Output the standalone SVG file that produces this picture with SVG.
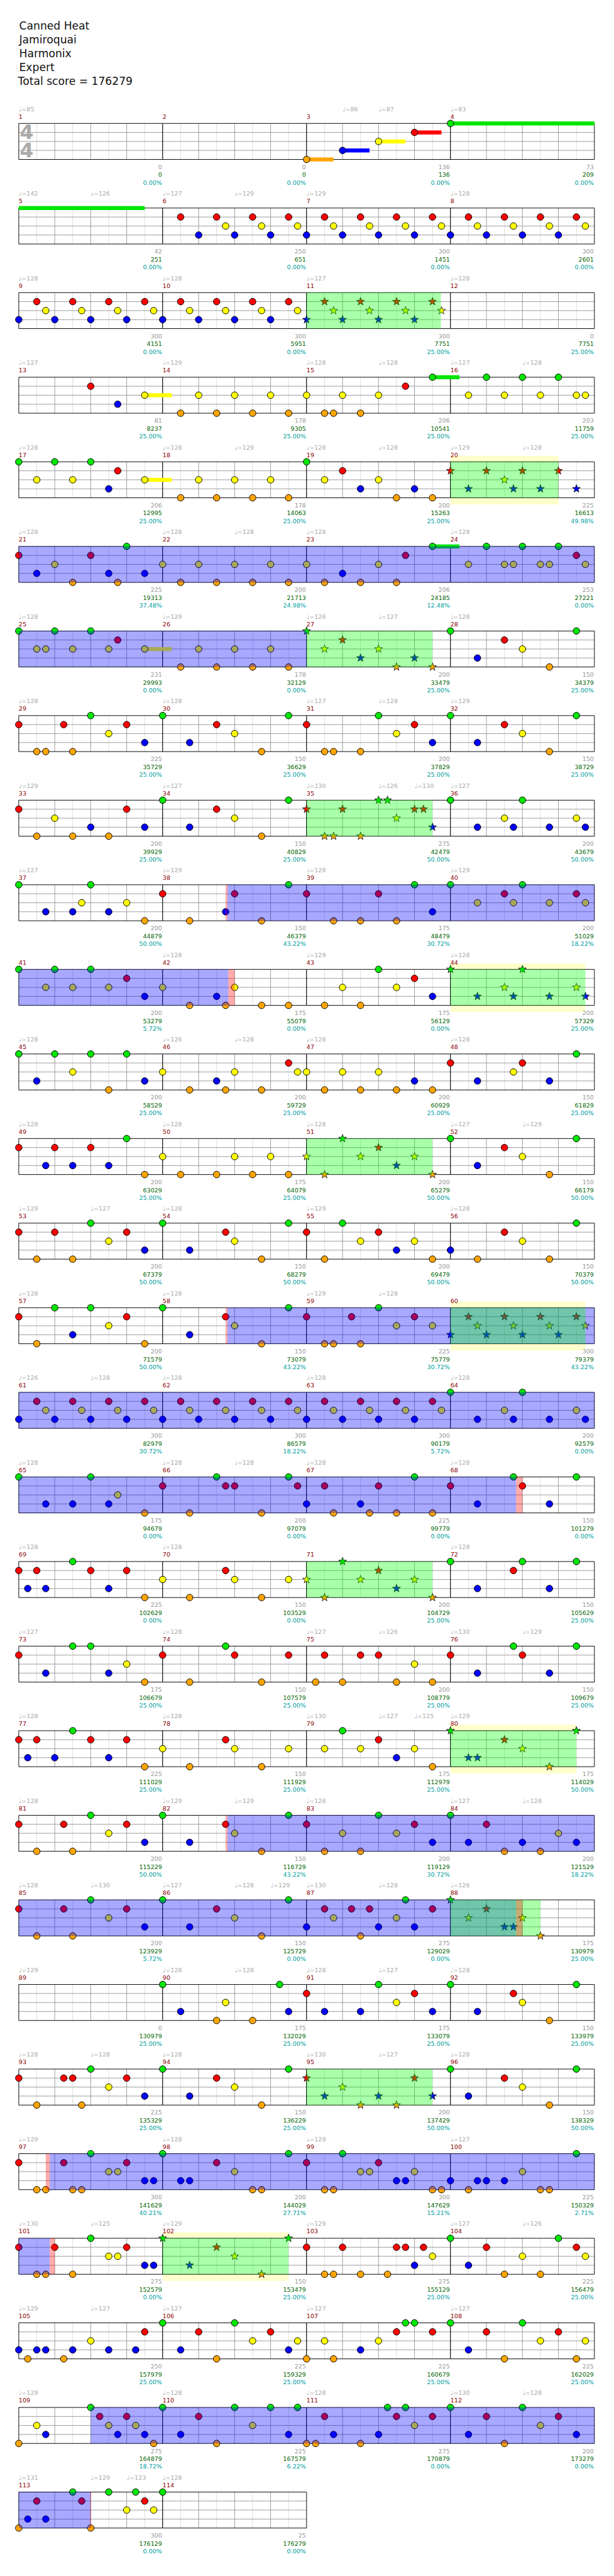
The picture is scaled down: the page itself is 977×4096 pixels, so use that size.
<svg xmlns="http://www.w3.org/2000/svg" xmlns:xlink="http://www.w3.org/1999/xlink" width="977" height="4096" viewBox="0 0 977 4096">
<style>
text{font-family:"DejaVu Sans","Liberation Sans",sans-serif;font-size:10px}
.h{font-size:18px;fill:#111}
.ts{font-size:33px;font-weight:bold;fill:#aaa;text-anchor:middle}
.t{fill:#aaa}
.mn{fill:#8b0000}
.n1,.n2,.n3{text-anchor:end}
.n1{fill:#999}.n2{fill:#006400}.n3{fill:#00a0a0}
.g{fill:#00e600}.r{fill:#f00}.y{fill:#ff0}.b{fill:#00f}.o{fill:#ffa500}
circle{stroke:#000;stroke-width:1}
.ob{fill:#00f;opacity:.34}.og{fill:#0f0;opacity:.333}.or{fill:#f00;opacity:.33}.yb{fill:#ffffcc}
</style>
<defs>
<g id="mg">
<rect width="240" height="60" fill="#fff"/>
<path d="M30 0v60M90 0v60M150 0v60M210 0v60" stroke="#ddd"/>
<path d="M60 0v60M120 0v60M180 0v60M0 15h240M0 30h240M0 45h240" stroke="#999"/>
<path d="M0 0h240M0 60h240M0 0v60M240 0v60" stroke="#000"/>
</g>
<path id="s" d="M0,-7L1.65,-2.27 6.66,-2.16 2.66,0.87 4.11,5.66 0,2.8 -4.11,5.66 -2.66,0.87 -6.66,-2.16 -1.65,-2.27Z" stroke="#000" stroke-width="0.8"/>
</defs>
<rect width="977" height="4096" fill="#fff"/>
<g transform="scale(0.9541)">
<g id="header">
<text class="h" x="32" y="49">Canned Heat</text>
<text class="h" x="32" y="72">Jamiroquai</text>
<text class="h" x="32" y="95">Harmonix</text>
<text class="h" x="32" y="118">Expert</text>
<text class="h" x="30" y="141">Total score = 176279</text>
</g>

<g id="row1" transform="translate(31.3,205.7)">
<use href="#mg"/><use href="#mg" x="240"/><use href="#mg" x="480"/><use href="#mg" x="720"/>
<text class="ts" x="13.2" y="26.3">4</text><text class="ts" x="13.2" y="56.3">4</text>
<g class="g"><rect x="720" y="-3.3" width="240" height="6.7"/><circle cx="720" r="5.5"/></g>
<g class="r" transform="translate(0,15)"><rect x="660" y="-3.3" width="45" height="6.7"/><circle cx="660" r="5.5"/></g>
<g class="y" transform="translate(0,30)"><rect x="600" y="-3.3" width="45" height="6.7"/><circle cx="600" r="5.5"/></g>
<g class="b" transform="translate(0,45)"><rect x="540" y="-3.3" width="45" height="6.7"/><circle cx="540" r="5.5"/></g>
<g class="o" transform="translate(0,60)"><rect x="480" y="-3.3" width="45" height="6.7"/><circle cx="480" r="5.5"/></g>
<text class="t" x="0" y="-20.7">♩=85</text><text class="t" x="540" y="-20.7">♩=86</text><text class="t" x="600" y="-20.7">♩=87</text><text class="t" x="720" y="-20.7">♩=83</text>
<text class="mn" x="0" y="-8">1</text><text class="mn" x="240" y="-8">2</text><text class="mn" x="480" y="-8">3</text><text class="mn" x="720" y="-8">4</text>
<text class="n1" x="239" y="76">0</text><text class="n2" x="239" y="89.3">0</text><text class="n3" x="239" y="102">0.00%</text>
<text class="n1" x="479" y="76">0</text><text class="n2" x="479" y="89.3">0</text><text class="n3" x="479" y="102">0.00%</text>
<text class="n1" x="719" y="76">136</text><text class="n2" x="719" y="89.3">136</text><text class="n3" x="719" y="102">0.00%</text>
<text class="n1" x="959" y="76">73</text><text class="n2" x="959" y="89.3">209</text><text class="n3" x="959" y="102">0.00%</text>
</g>

<g id="row2" transform="translate(31.3,346.68)">
<use href="#mg"/><use href="#mg" x="240"/><use href="#mg" x="480"/><use href="#mg" x="720"/>
<g class="g"><rect x="0" y="-3.3" width="210" height="6.7"/></g>
<g class="r" transform="translate(0,15)"><circle cx="270" r="5.5"/><circle cx="330" r="5.5"/><circle cx="390" r="5.5"/><circle cx="450" r="5.5"/><circle cx="510" r="5.5"/><circle cx="570" r="5.5"/><circle cx="630" r="5.5"/><circle cx="690" r="5.5"/><circle cx="750" r="5.5"/><circle cx="810" r="5.5"/><circle cx="870" r="5.5"/><circle cx="930" r="5.5"/></g>
<g class="y" transform="translate(0,30)"><circle cx="345" r="5.5"/><circle cx="405" r="5.5"/><circle cx="465" r="5.5"/><circle cx="525" r="5.5"/><circle cx="585" r="5.5"/><circle cx="645" r="5.5"/><circle cx="705" r="5.5"/><circle cx="765" r="5.5"/><circle cx="825" r="5.5"/><circle cx="885" r="5.5"/><circle cx="945" r="5.5"/></g>
<g class="b" transform="translate(0,45)"><circle cx="300" r="5.5"/><circle cx="360" r="5.5"/><circle cx="420" r="5.5"/><circle cx="480" r="5.5"/><circle cx="540" r="5.5"/><circle cx="600" r="5.5"/><circle cx="660" r="5.5"/><circle cx="720" r="5.5"/><circle cx="780" r="5.5"/><circle cx="840" r="5.5"/><circle cx="900" r="5.5"/></g>
<text class="t" x="0" y="-20.7">♩=142</text><text class="t" x="120" y="-20.7">♩=126</text><text class="t" x="240" y="-20.7">♩=127</text><text class="t" x="360" y="-20.7">♩=129</text><text class="t" x="480" y="-20.7">♩=129</text><text class="t" x="720" y="-20.7">♩=128</text>
<text class="mn" x="0" y="-8">5</text><text class="mn" x="240" y="-8">6</text><text class="mn" x="480" y="-8">7</text><text class="mn" x="720" y="-8">8</text>
<text class="n1" x="239" y="76">42</text><text class="n2" x="239" y="89.3">251</text><text class="n3" x="239" y="102">0.00%</text>
<text class="n1" x="479" y="76">250</text><text class="n2" x="479" y="89.3">651</text><text class="n3" x="479" y="102">0.00%</text>
<text class="n1" x="719" y="76">300</text><text class="n2" x="719" y="89.3">1451</text><text class="n3" x="719" y="102">0.00%</text>
<text class="n1" x="959" y="76">300</text><text class="n2" x="959" y="89.3">2601</text><text class="n3" x="959" y="102">0.00%</text>
</g>

<g id="row3" transform="translate(31.3,487.66)">
<use href="#mg"/><use href="#mg" x="240"/><use href="#mg" x="480"/><use href="#mg" x="720"/>
<g class="r" transform="translate(0,15)"><circle cx="30" r="5.5"/><circle cx="90" r="5.5"/><circle cx="150" r="5.5"/><circle cx="210" r="5.5"/><circle cx="270" r="5.5"/><circle cx="330" r="5.5"/><circle cx="390" r="5.5"/><circle cx="450" r="5.5"/><use href="#s" x="510"/><use href="#s" x="570"/><use href="#s" x="630"/><use href="#s" x="690"/></g>
<g class="y" transform="translate(0,30)"><circle cx="45" r="5.5"/><circle cx="105" r="5.5"/><circle cx="165" r="5.5"/><circle cx="225" r="5.5"/><circle cx="285" r="5.5"/><circle cx="345" r="5.5"/><circle cx="405" r="5.5"/><circle cx="465" r="5.5"/><use href="#s" x="525"/><use href="#s" x="585"/><use href="#s" x="645"/><use href="#s" x="705"/></g>
<g class="b" transform="translate(0,45)"><circle cx="0" r="5.5"/><circle cx="60" r="5.5"/><circle cx="120" r="5.5"/><circle cx="180" r="5.5"/><circle cx="240" r="5.5"/><circle cx="300" r="5.5"/><circle cx="360" r="5.5"/><circle cx="420" r="5.5"/><use href="#s" x="480"/><use href="#s" x="540"/><use href="#s" x="600"/><use href="#s" x="660"/></g>
<rect class="og" x="480" width="224" height="60"/>
<text class="t" x="0" y="-20.7">♩=128</text><text class="t" x="240" y="-20.7">♩=128</text><text class="t" x="480" y="-20.7">♩=127</text><text class="t" x="720" y="-20.7">♩=128</text>
<text class="mn" x="0" y="-8">9</text><text class="mn" x="240" y="-8">10</text><text class="mn" x="480" y="-8">11</text><text class="mn" x="720" y="-8">12</text>
<text class="n1" x="239" y="76">300</text><text class="n2" x="239" y="89.3">4151</text><text class="n3" x="239" y="102">0.00%</text>
<text class="n1" x="479" y="76">300</text><text class="n2" x="479" y="89.3">5951</text><text class="n3" x="479" y="102">0.00%</text>
<text class="n1" x="719" y="76">300</text><text class="n2" x="719" y="89.3">7751</text><text class="n3" x="719" y="102">25.00%</text>
<text class="n1" x="959" y="76">0</text><text class="n2" x="959" y="89.3">7751</text><text class="n3" x="959" y="102">25.00%</text>
</g>

<g id="row4" transform="translate(31.3,628.64)">
<use href="#mg"/><use href="#mg" x="240"/><use href="#mg" x="480"/><use href="#mg" x="720"/>
<g class="g"><rect x="690" y="-3.3" width="45" height="6.7"/><circle cx="690" r="5.5"/><circle cx="780" r="5.5"/><circle cx="840" r="5.5"/><circle cx="900" r="5.5"/></g>
<g class="r" transform="translate(0,15)"><circle cx="120" r="5.5"/><circle cx="645" r="5.5"/></g>
<g class="y" transform="translate(0,30)"><rect x="210" y="-3.3" width="45" height="6.7"/><circle cx="210" r="5.5"/><circle cx="300" r="5.5"/><circle cx="360" r="5.5"/><circle cx="420" r="5.5"/><circle cx="480" r="5.5"/><circle cx="540" r="5.5"/><circle cx="600" r="5.5"/><circle cx="750" r="5.5"/><circle cx="810" r="5.5"/><circle cx="870" r="5.5"/><circle cx="930" r="5.5"/><circle cx="945" r="5.5"/></g>
<g class="b" transform="translate(0,45)"><circle cx="165" r="5.5"/></g>
<g class="o" transform="translate(0,60)"><circle cx="270" r="5.5"/><circle cx="330" r="5.5"/><circle cx="390" r="5.5"/><circle cx="450" r="5.5"/><circle cx="510" r="5.5"/><circle cx="525" r="5.5"/><circle cx="570" r="5.5"/></g>
<text class="t" x="0" y="-20.7">♩=127</text><text class="t" x="240" y="-20.7">♩=129</text><text class="t" x="480" y="-20.7">♩=128</text><text class="t" x="600" y="-20.7">♩=128</text><text class="t" x="720" y="-20.7">♩=127</text><text class="t" x="840" y="-20.7">♩=128</text>
<text class="mn" x="0" y="-8">13</text><text class="mn" x="240" y="-8">14</text><text class="mn" x="480" y="-8">15</text><text class="mn" x="720" y="-8">16</text>
<text class="n1" x="239" y="76">81</text><text class="n2" x="239" y="89.3">8237</text><text class="n3" x="239" y="102">25.00%</text>
<text class="n1" x="479" y="76">178</text><text class="n2" x="479" y="89.3">9305</text><text class="n3" x="479" y="102">25.00%</text>
<text class="n1" x="719" y="76">206</text><text class="n2" x="719" y="89.3">10541</text><text class="n3" x="719" y="102">25.00%</text>
<text class="n1" x="959" y="76">203</text><text class="n2" x="959" y="89.3">11759</text><text class="n3" x="959" y="102">25.00%</text>
</g>

<g id="row5" transform="translate(31.3,769.62)">
<rect class="yb" x="720" y="-10" width="180" height="81"/>
<use href="#mg"/><use href="#mg" x="240"/><use href="#mg" x="480"/><use href="#mg" x="720"/>
<g class="g"><circle cx="0" r="5.5"/><circle cx="60" r="5.5"/><circle cx="120" r="5.5"/><circle cx="480" r="5.5"/></g>
<g class="r" transform="translate(0,15)"><circle cx="165" r="5.5"/><circle cx="540" r="5.5"/><use href="#s" x="720"/><use href="#s" x="780"/><use href="#s" x="840"/><use href="#s" x="900"/></g>
<g class="y" transform="translate(0,30)"><rect x="210" y="-3.3" width="45" height="6.7"/><circle cx="30" r="5.5"/><circle cx="90" r="5.5"/><circle cx="210" r="5.5"/><circle cx="300" r="5.5"/><circle cx="360" r="5.5"/><circle cx="420" r="5.5"/><circle cx="510" r="5.5"/><circle cx="600" r="5.5"/><use href="#s" x="810"/></g>
<g class="b" transform="translate(0,45)"><circle cx="150" r="5.5"/><circle cx="570" r="5.5"/><circle cx="660" r="5.5"/><use href="#s" x="750"/><use href="#s" x="825"/><use href="#s" x="870"/><use href="#s" x="930"/></g>
<g class="o" transform="translate(0,60)"><circle cx="270" r="5.5"/><circle cx="330" r="5.5"/><circle cx="390" r="5.5"/><circle cx="450" r="5.5"/><circle cx="630" r="5.5"/><circle cx="690" r="5.5"/></g>
<rect class="og" x="720" width="180" height="60"/>
<text class="t" x="0" y="-20.7">♩=128</text><text class="t" x="240" y="-20.7">♩=128</text><text class="t" x="360" y="-20.7">♩=129</text><text class="t" x="480" y="-20.7">♩=128</text><text class="t" x="600" y="-20.7">♩=128</text><text class="t" x="720" y="-20.7">♩=129</text><text class="t" x="840" y="-20.7">♩=128</text>
<text class="mn" x="0" y="-8">17</text><text class="mn" x="240" y="-8">18</text><text class="mn" x="480" y="-8">19</text><text class="mn" x="720" y="-8">20</text>
<text class="n1" x="239" y="76">206</text><text class="n2" x="239" y="89.3">12995</text><text class="n3" x="239" y="102">25.00%</text>
<text class="n1" x="479" y="76">178</text><text class="n2" x="479" y="89.3">14063</text><text class="n3" x="479" y="102">25.00%</text>
<text class="n1" x="719" y="76">200</text><text class="n2" x="719" y="89.3">15263</text><text class="n3" x="719" y="102">25.00%</text>
<text class="n1" x="959" y="76">225</text><text class="n2" x="959" y="89.3">16613</text><text class="n3" x="959" y="102">49.98%</text>
</g>

<g id="row6" transform="translate(31.3,910.6)">
<use href="#mg"/><use href="#mg" x="240"/><use href="#mg" x="480"/><use href="#mg" x="720"/>
<g class="g"><rect x="690" y="-3.3" width="45" height="6.7"/><circle cx="180" r="5.5"/><circle cx="690" r="5.5"/><circle cx="780" r="5.5"/><circle cx="840" r="5.5"/><circle cx="900" r="5.5"/></g>
<g class="r" transform="translate(0,15)"><circle cx="0" r="5.5"/><circle cx="120" r="5.5"/><circle cx="645" r="5.5"/><circle cx="930" r="5.5"/></g>
<g class="y" transform="translate(0,30)"><circle cx="60" r="5.5"/><circle cx="240" r="5.5"/><circle cx="300" r="5.5"/><circle cx="360" r="5.5"/><circle cx="420" r="5.5"/><circle cx="480" r="5.5"/><circle cx="600" r="5.5"/><circle cx="750" r="5.5"/><circle cx="810" r="5.5"/><circle cx="825" r="5.5"/><circle cx="870" r="5.5"/><circle cx="885" r="5.5"/><circle cx="945" r="5.5"/></g>
<g class="b" transform="translate(0,45)"><circle cx="30" r="5.5"/><circle cx="150" r="5.5"/><circle cx="210" r="5.5"/><circle cx="540" r="5.5"/></g>
<g class="o" transform="translate(0,60)"><circle cx="90" r="5.5"/><circle cx="165" r="5.5"/><circle cx="270" r="5.5"/><circle cx="330" r="5.5"/><circle cx="390" r="5.5"/><circle cx="450" r="5.5"/><circle cx="510" r="5.5"/><circle cx="570" r="5.5"/><circle cx="630" r="5.5"/></g>
<rect class="ob" x="0" width="960" height="60"/>
<text class="t" x="0" y="-20.7">♩=128</text><text class="t" x="240" y="-20.7">♩=128</text><text class="t" x="360" y="-20.7">♩=128</text><text class="t" x="480" y="-20.7">♩=128</text><text class="t" x="720" y="-20.7">♩=128</text>
<text class="mn" x="0" y="-8">21</text><text class="mn" x="240" y="-8">22</text><text class="mn" x="480" y="-8">23</text><text class="mn" x="720" y="-8">24</text>
<text class="n1" x="239" y="76">225</text><text class="n2" x="239" y="89.3">19313</text><text class="n3" x="239" y="102">37.48%</text>
<text class="n1" x="479" y="76">200</text><text class="n2" x="479" y="89.3">21713</text><text class="n3" x="479" y="102">24.98%</text>
<text class="n1" x="719" y="76">206</text><text class="n2" x="719" y="89.3">24185</text><text class="n3" x="719" y="102">12.48%</text>
<text class="n1" x="959" y="76">253</text><text class="n2" x="959" y="89.3">27221</text><text class="n3" x="959" y="102">0.00%</text>
</g>

<g id="row7" transform="translate(31.3,1051.58)">
<use href="#mg"/><use href="#mg" x="240"/><use href="#mg" x="480"/><use href="#mg" x="720"/>
<g class="g"><circle cx="0" r="5.5"/><circle cx="60" r="5.5"/><circle cx="120" r="5.5"/><circle cx="720" r="5.5"/><circle cx="930" r="5.5"/><use href="#s" x="480"/></g>
<g class="r" transform="translate(0,15)"><circle cx="165" r="5.5"/><circle cx="810" r="5.5"/><use href="#s" x="540"/></g>
<g class="y" transform="translate(0,30)"><rect x="210" y="-3.3" width="45" height="6.7"/><circle cx="30" r="5.5"/><circle cx="45" r="5.5"/><circle cx="90" r="5.5"/><circle cx="150" r="5.5"/><circle cx="210" r="5.5"/><circle cx="300" r="5.5"/><circle cx="360" r="5.5"/><circle cx="420" r="5.5"/><circle cx="840" r="5.5"/><use href="#s" x="510"/><use href="#s" x="600"/></g>
<g class="b" transform="translate(0,45)"><circle cx="765" r="5.5"/><use href="#s" x="570"/><use href="#s" x="660"/></g>
<g class="o" transform="translate(0,60)"><circle cx="270" r="5.5"/><circle cx="330" r="5.5"/><circle cx="390" r="5.5"/><circle cx="450" r="5.5"/><circle cx="885" r="5.5"/><use href="#s" x="630"/><use href="#s" x="690"/></g>
<rect class="ob" x="0" width="480" height="60"/><rect class="og" x="480" width="210" height="60"/>
<text class="t" x="0" y="-20.7">♩=128</text><text class="t" x="240" y="-20.7">♩=129</text><text class="t" x="480" y="-20.7">♩=126</text><text class="t" x="600" y="-20.7">♩=127</text><text class="t" x="720" y="-20.7">♩=128</text>
<text class="mn" x="0" y="-8">25</text><text class="mn" x="240" y="-8">26</text><text class="mn" x="480" y="-8">27</text><text class="mn" x="720" y="-8">28</text>
<text class="n1" x="239" y="76">231</text><text class="n2" x="239" y="89.3">29993</text><text class="n3" x="239" y="102">0.00%</text>
<text class="n1" x="479" y="76">178</text><text class="n2" x="479" y="89.3">32129</text><text class="n3" x="479" y="102">0.00%</text>
<text class="n1" x="719" y="76">200</text><text class="n2" x="719" y="89.3">33479</text><text class="n3" x="719" y="102">25.00%</text>
<text class="n1" x="959" y="76">150</text><text class="n2" x="959" y="89.3">34379</text><text class="n3" x="959" y="102">25.00%</text>
</g>

<g id="row8" transform="translate(31.3,1192.56)">
<use href="#mg"/><use href="#mg" x="240"/><use href="#mg" x="480"/><use href="#mg" x="720"/>
<g class="g"><circle cx="120" r="5.5"/><circle cx="240" r="5.5"/><circle cx="450" r="5.5"/><circle cx="600" r="5.5"/><circle cx="720" r="5.5"/><circle cx="930" r="5.5"/></g>
<g class="r" transform="translate(0,15)"><circle cx="0" r="5.5"/><circle cx="75" r="5.5"/><circle cx="180" r="5.5"/><circle cx="330" r="5.5"/><circle cx="480" r="5.5"/><circle cx="660" r="5.5"/><circle cx="810" r="5.5"/></g>
<g class="y" transform="translate(0,30)"><circle cx="150" r="5.5"/><circle cx="360" r="5.5"/><circle cx="630" r="5.5"/><circle cx="840" r="5.5"/></g>
<g class="b" transform="translate(0,45)"><circle cx="210" r="5.5"/><circle cx="285" r="5.5"/><circle cx="690" r="5.5"/><circle cx="765" r="5.5"/></g>
<g class="o" transform="translate(0,60)"><circle cx="30" r="5.5"/><circle cx="45" r="5.5"/><circle cx="90" r="5.5"/><circle cx="405" r="5.5"/><circle cx="510" r="5.5"/><circle cx="525" r="5.5"/><circle cx="570" r="5.5"/><circle cx="885" r="5.5"/></g>
<text class="t" x="0" y="-20.7">♩=128</text><text class="t" x="240" y="-20.7">♩=128</text><text class="t" x="480" y="-20.7">♩=127</text><text class="t" x="600" y="-20.7">♩=128</text><text class="t" x="720" y="-20.7">♩=129</text>
<text class="mn" x="0" y="-8">29</text><text class="mn" x="240" y="-8">30</text><text class="mn" x="480" y="-8">31</text><text class="mn" x="720" y="-8">32</text>
<text class="n1" x="239" y="76">225</text><text class="n2" x="239" y="89.3">35729</text><text class="n3" x="239" y="102">25.00%</text>
<text class="n1" x="479" y="76">150</text><text class="n2" x="479" y="89.3">36629</text><text class="n3" x="479" y="102">25.00%</text>
<text class="n1" x="719" y="76">200</text><text class="n2" x="719" y="89.3">37829</text><text class="n3" x="719" y="102">25.00%</text>
<text class="n1" x="959" y="76">150</text><text class="n2" x="959" y="89.3">38729</text><text class="n3" x="959" y="102">25.00%</text>
</g>

<g id="row9" transform="translate(31.3,1333.54)">
<use href="#mg"/><use href="#mg" x="240"/><use href="#mg" x="480"/><use href="#mg" x="720"/>
<g class="g"><circle cx="240" r="5.5"/><circle cx="450" r="5.5"/><circle cx="720" r="5.5"/><circle cx="840" r="5.5"/><use href="#s" x="600"/><use href="#s" x="615"/></g>
<g class="r" transform="translate(0,15)"><circle cx="0" r="5.5"/><circle cx="180" r="5.5"/><circle cx="330" r="5.5"/><use href="#s" x="480"/><use href="#s" x="540"/><use href="#s" x="660"/><use href="#s" x="675"/></g>
<g class="y" transform="translate(0,30)"><circle cx="60" r="5.5"/><circle cx="360" r="5.5"/><circle cx="810" r="5.5"/><circle cx="930" r="5.5"/><use href="#s" x="630"/></g>
<g class="b" transform="translate(0,45)"><circle cx="120" r="5.5"/><circle cx="210" r="5.5"/><circle cx="285" r="5.5"/><circle cx="765" r="5.5"/><circle cx="825" r="5.5"/><circle cx="885" r="5.5"/><circle cx="945" r="5.5"/><use href="#s" x="690"/></g>
<g class="o" transform="translate(0,60)"><circle cx="30" r="5.5"/><circle cx="90" r="5.5"/><circle cx="150" r="5.5"/><circle cx="405" r="5.5"/><use href="#s" x="510"/><use href="#s" x="525"/><use href="#s" x="570"/></g>
<rect class="og" x="480" width="210" height="60"/>
<text class="t" x="0" y="-20.7">♩=129</text><text class="t" x="240" y="-20.7">♩=127</text><text class="t" x="480" y="-20.7">♩=130</text><text class="t" x="600" y="-20.7">♩=126</text><text class="t" x="660" y="-20.7">♩=130</text><text class="t" x="720" y="-20.7">♩=127</text>
<text class="mn" x="0" y="-8">33</text><text class="mn" x="240" y="-8">34</text><text class="mn" x="480" y="-8">35</text><text class="mn" x="720" y="-8">36</text>
<text class="n1" x="239" y="76">200</text><text class="n2" x="239" y="89.3">39929</text><text class="n3" x="239" y="102">25.00%</text>
<text class="n1" x="479" y="76">150</text><text class="n2" x="479" y="89.3">40829</text><text class="n3" x="479" y="102">25.00%</text>
<text class="n1" x="719" y="76">275</text><text class="n2" x="719" y="89.3">42479</text><text class="n3" x="719" y="102">50.00%</text>
<text class="n1" x="959" y="76">200</text><text class="n2" x="959" y="89.3">43679</text><text class="n3" x="959" y="102">50.00%</text>
</g>

<g id="row10" transform="translate(31.3,1474.52)">
<use href="#mg"/><use href="#mg" x="240"/><use href="#mg" x="480"/><use href="#mg" x="720"/>
<g class="g"><circle cx="0" r="5.5"/><circle cx="120" r="5.5"/><circle cx="450" r="5.5"/><circle cx="660" r="5.5"/><circle cx="720" r="5.5"/><circle cx="840" r="5.5"/></g>
<g class="r" transform="translate(0,15)"><circle cx="240" r="5.5"/><circle cx="360" r="5.5"/><circle cx="480" r="5.5"/><circle cx="600" r="5.5"/><circle cx="810" r="5.5"/><circle cx="930" r="5.5"/></g>
<g class="y" transform="translate(0,30)"><circle cx="105" r="5.5"/><circle cx="180" r="5.5"/><circle cx="765" r="5.5"/><circle cx="825" r="5.5"/><circle cx="885" r="5.5"/><circle cx="945" r="5.5"/></g>
<g class="b" transform="translate(0,45)"><circle cx="45" r="5.5"/><circle cx="90" r="5.5"/><circle cx="150" r="5.5"/><circle cx="345" r="5.5"/><circle cx="690" r="5.5"/></g>
<g class="o" transform="translate(0,60)"><circle cx="210" r="5.5"/><circle cx="285" r="5.5"/><circle cx="405" r="5.5"/><circle cx="525" r="5.5"/><circle cx="570" r="5.5"/><circle cx="630" r="5.5"/></g>
<rect class="or" x="345" width="3" height="60"/><rect class="ob" x="348" width="612" height="60"/>
<text class="t" x="0" y="-20.7">♩=127</text><text class="t" x="240" y="-20.7">♩=129</text><text class="t" x="480" y="-20.7">♩=128</text><text class="t" x="720" y="-20.7">♩=129</text>
<text class="mn" x="0" y="-8">37</text><text class="mn" x="240" y="-8">38</text><text class="mn" x="480" y="-8">39</text><text class="mn" x="720" y="-8">40</text>
<text class="n1" x="239" y="76">200</text><text class="n2" x="239" y="89.3">44879</text><text class="n3" x="239" y="102">50.00%</text>
<text class="n1" x="479" y="76">150</text><text class="n2" x="479" y="89.3">46379</text><text class="n3" x="479" y="102">43.22%</text>
<text class="n1" x="719" y="76">175</text><text class="n2" x="719" y="89.3">48479</text><text class="n3" x="719" y="102">30.72%</text>
<text class="n1" x="959" y="76">200</text><text class="n2" x="959" y="89.3">51029</text><text class="n3" x="959" y="102">18.22%</text>
</g>

<g id="row11" transform="translate(31.3,1615.5)">
<rect class="yb" x="720" y="-10" width="225" height="81"/>
<use href="#mg"/><use href="#mg" x="240"/><use href="#mg" x="480"/><use href="#mg" x="720"/>
<g class="g"><circle cx="0" r="5.5"/><circle cx="60" r="5.5"/><circle cx="120" r="5.5"/><circle cx="600" r="5.5"/><use href="#s" x="720"/><use href="#s" x="840"/></g>
<g class="r" transform="translate(0,15)"><circle cx="180" r="5.5"/><circle cx="660" r="5.5"/></g>
<g class="y" transform="translate(0,30)"><circle cx="45" r="5.5"/><circle cx="90" r="5.5"/><circle cx="150" r="5.5"/><circle cx="240" r="5.5"/><circle cx="360" r="5.5"/><circle cx="540" r="5.5"/><circle cx="630" r="5.5"/><use href="#s" x="810"/><use href="#s" x="930"/></g>
<g class="b" transform="translate(0,45)"><circle cx="210" r="5.5"/><circle cx="330" r="5.5"/><circle cx="690" r="5.5"/><use href="#s" x="765"/><use href="#s" x="825"/><use href="#s" x="885"/><use href="#s" x="945"/></g>
<g class="o" transform="translate(0,60)"><circle cx="285" r="5.5"/><circle cx="345" r="5.5"/><circle cx="405" r="5.5"/><circle cx="450" r="5.5"/><circle cx="510" r="5.5"/><circle cx="570" r="5.5"/></g>
<rect class="ob" x="0" width="349.5" height="60"/><rect class="or" x="349.5" width="10.5" height="60"/><rect class="og" x="720" width="225" height="60"/>
<text class="t" x="240" y="-20.7">♩=128</text><text class="t" x="480" y="-20.7">♩=129</text><text class="t" x="720" y="-20.7">♩=128</text>
<text class="mn" x="0" y="-8">41</text><text class="mn" x="240" y="-8">42</text><text class="mn" x="480" y="-8">43</text><text class="mn" x="720" y="-8">44</text>
<text class="n1" x="239" y="76">200</text><text class="n2" x="239" y="89.3">53279</text><text class="n3" x="239" y="102">5.72%</text>
<text class="n1" x="479" y="76">175</text><text class="n2" x="479" y="89.3">55079</text><text class="n3" x="479" y="102">0.00%</text>
<text class="n1" x="719" y="76">175</text><text class="n2" x="719" y="89.3">56129</text><text class="n3" x="719" y="102">0.00%</text>
<text class="n1" x="959" y="76">200</text><text class="n2" x="959" y="89.3">57329</text><text class="n3" x="959" y="102">25.00%</text>
</g>

<g id="row12" transform="translate(31.3,1756.48)">
<use href="#mg"/><use href="#mg" x="240"/><use href="#mg" x="480"/><use href="#mg" x="720"/>
<g class="g"><circle cx="0" r="5.5"/><circle cx="60" r="5.5"/><circle cx="120" r="5.5"/><circle cx="180" r="5.5"/><circle cx="930" r="5.5"/></g>
<g class="r" transform="translate(0,15)"><circle cx="450" r="5.5"/><circle cx="720" r="5.5"/><circle cx="840" r="5.5"/></g>
<g class="y" transform="translate(0,30)"><circle cx="90" r="5.5"/><circle cx="240" r="5.5"/><circle cx="360" r="5.5"/><circle cx="465" r="5.5"/><circle cx="480" r="5.5"/><circle cx="540" r="5.5"/><circle cx="600" r="5.5"/><circle cx="825" r="5.5"/></g>
<g class="b" transform="translate(0,45)"><circle cx="30" r="5.5"/><circle cx="210" r="5.5"/><circle cx="330" r="5.5"/><circle cx="660" r="5.5"/><circle cx="765" r="5.5"/><circle cx="885" r="5.5"/></g>
<g class="o" transform="translate(0,60)"><circle cx="150" r="5.5"/><circle cx="285" r="5.5"/><circle cx="345" r="5.5"/><circle cx="405" r="5.5"/><circle cx="510" r="5.5"/><circle cx="570" r="5.5"/><circle cx="630" r="5.5"/><circle cx="690" r="5.5"/></g>
<text class="t" x="0" y="-20.7">♩=128</text><text class="t" x="240" y="-20.7">♩=126</text><text class="t" x="360" y="-20.7">♩=128</text><text class="t" x="480" y="-20.7">♩=128</text><text class="t" x="720" y="-20.7">♩=128</text>
<text class="mn" x="0" y="-8">45</text><text class="mn" x="240" y="-8">46</text><text class="mn" x="480" y="-8">47</text><text class="mn" x="720" y="-8">48</text>
<text class="n1" x="239" y="76">200</text><text class="n2" x="239" y="89.3">58529</text><text class="n3" x="239" y="102">25.00%</text>
<text class="n1" x="479" y="76">200</text><text class="n2" x="479" y="89.3">59729</text><text class="n3" x="479" y="102">25.00%</text>
<text class="n1" x="719" y="76">200</text><text class="n2" x="719" y="89.3">60929</text><text class="n3" x="719" y="102">25.00%</text>
<text class="n1" x="959" y="76">150</text><text class="n2" x="959" y="89.3">61829</text><text class="n3" x="959" y="102">25.00%</text>
</g>

<g id="row13" transform="translate(31.3,1897.46)">
<use href="#mg"/><use href="#mg" x="240"/><use href="#mg" x="480"/><use href="#mg" x="720"/>
<g class="g"><circle cx="180" r="5.5"/><circle cx="720" r="5.5"/><circle cx="930" r="5.5"/><use href="#s" x="540"/></g>
<g class="r" transform="translate(0,15)"><circle cx="0" r="5.5"/><circle cx="60" r="5.5"/><circle cx="120" r="5.5"/><circle cx="810" r="5.5"/><use href="#s" x="600"/></g>
<g class="y" transform="translate(0,30)"><circle cx="240" r="5.5"/><circle cx="360" r="5.5"/><circle cx="420" r="5.5"/><circle cx="840" r="5.5"/><use href="#s" x="480"/><use href="#s" x="570"/><use href="#s" x="660"/></g>
<g class="b" transform="translate(0,45)"><circle cx="45" r="5.5"/><circle cx="90" r="5.5"/><circle cx="150" r="5.5"/><circle cx="765" r="5.5"/><use href="#s" x="630"/></g>
<g class="o" transform="translate(0,60)"><circle cx="210" r="5.5"/><circle cx="270" r="5.5"/><circle cx="330" r="5.5"/><circle cx="390" r="5.5"/><circle cx="450" r="5.5"/><circle cx="885" r="5.5"/><use href="#s" x="510"/><use href="#s" x="690"/></g>
<rect class="og" x="480" width="210" height="60"/>
<text class="t" x="0" y="-20.7">♩=128</text><text class="t" x="240" y="-20.7">♩=128</text><text class="t" x="480" y="-20.7">♩=128</text><text class="t" x="720" y="-20.7">♩=127</text><text class="t" x="840" y="-20.7">♩=129</text>
<text class="mn" x="0" y="-8">49</text><text class="mn" x="240" y="-8">50</text><text class="mn" x="480" y="-8">51</text><text class="mn" x="720" y="-8">52</text>
<text class="n1" x="239" y="76">200</text><text class="n2" x="239" y="89.3">63029</text><text class="n3" x="239" y="102">25.00%</text>
<text class="n1" x="479" y="76">175</text><text class="n2" x="479" y="89.3">64079</text><text class="n3" x="479" y="102">25.00%</text>
<text class="n1" x="719" y="76">200</text><text class="n2" x="719" y="89.3">65279</text><text class="n3" x="719" y="102">50.00%</text>
<text class="n1" x="959" y="76">150</text><text class="n2" x="959" y="89.3">66179</text><text class="n3" x="959" y="102">50.00%</text>
</g>

<g id="row14" transform="translate(31.3,2038.44)">
<use href="#mg"/><use href="#mg" x="240"/><use href="#mg" x="480"/><use href="#mg" x="720"/>
<g class="g"><circle cx="120" r="5.5"/><circle cx="240" r="5.5"/><circle cx="450" r="5.5"/><circle cx="540" r="5.5"/><circle cx="930" r="5.5"/></g>
<g class="r" transform="translate(0,15)"><circle cx="0" r="5.5"/><circle cx="60" r="5.5"/><circle cx="180" r="5.5"/><circle cx="345" r="5.5"/><circle cx="480" r="5.5"/><circle cx="600" r="5.5"/><circle cx="810" r="5.5"/></g>
<g class="y" transform="translate(0,30)"><circle cx="150" r="5.5"/><circle cx="360" r="5.5"/><circle cx="570" r="5.5"/><circle cx="660" r="5.5"/><circle cx="840" r="5.5"/></g>
<g class="b" transform="translate(0,45)"><circle cx="210" r="5.5"/><circle cx="285" r="5.5"/><circle cx="630" r="5.5"/><circle cx="720" r="5.5"/></g>
<g class="o" transform="translate(0,60)"><circle cx="30" r="5.5"/><circle cx="90" r="5.5"/><circle cx="405" r="5.5"/><circle cx="510" r="5.5"/><circle cx="690" r="5.5"/><circle cx="765" r="5.5"/><circle cx="885" r="5.5"/></g>
<text class="t" x="0" y="-20.7">♩=129</text><text class="t" x="120" y="-20.7">♩=127</text><text class="t" x="240" y="-20.7">♩=128</text><text class="t" x="480" y="-20.7">♩=129</text><text class="t" x="720" y="-20.7">♩=128</text>
<text class="mn" x="0" y="-8">53</text><text class="mn" x="240" y="-8">54</text><text class="mn" x="480" y="-8">55</text><text class="mn" x="720" y="-8">56</text>
<text class="n1" x="239" y="76">200</text><text class="n2" x="239" y="89.3">67379</text><text class="n3" x="239" y="102">50.00%</text>
<text class="n1" x="479" y="76">150</text><text class="n2" x="479" y="89.3">68279</text><text class="n3" x="479" y="102">50.00%</text>
<text class="n1" x="719" y="76">200</text><text class="n2" x="719" y="89.3">69479</text><text class="n3" x="719" y="102">50.00%</text>
<text class="n1" x="959" y="76">150</text><text class="n2" x="959" y="89.3">70379</text><text class="n3" x="959" y="102">50.00%</text>
</g>

<g id="row15" transform="translate(31.3,2179.42)">
<rect class="yb" x="720" y="-10" width="225" height="81"/>
<use href="#mg"/><use href="#mg" x="240"/><use href="#mg" x="480"/><use href="#mg" x="720"/>
<g class="g"><circle cx="60" r="5.5"/><circle cx="120" r="5.5"/><circle cx="240" r="5.5"/><circle cx="450" r="5.5"/><circle cx="600" r="5.5"/></g>
<g class="r" transform="translate(0,15)"><circle cx="0" r="5.5"/><circle cx="180" r="5.5"/><circle cx="345" r="5.5"/><circle cx="480" r="5.5"/><circle cx="555" r="5.5"/><circle cx="660" r="5.5"/><use href="#s" x="750"/><use href="#s" x="810"/><use href="#s" x="870"/><use href="#s" x="930"/></g>
<g class="y" transform="translate(0,30)"><circle cx="150" r="5.5"/><circle cx="360" r="5.5"/><circle cx="630" r="5.5"/><circle cx="690" r="5.5"/><use href="#s" x="765"/><use href="#s" x="825"/><use href="#s" x="885"/><use href="#s" x="945"/></g>
<g class="b" transform="translate(0,45)"><circle cx="90" r="5.5"/><circle cx="285" r="5.5"/><use href="#s" x="720"/><use href="#s" x="780"/><use href="#s" x="840"/><use href="#s" x="900"/></g>
<g class="o" transform="translate(0,60)"><circle cx="30" r="5.5"/><circle cx="210" r="5.5"/><circle cx="405" r="5.5"/><circle cx="510" r="5.5"/><circle cx="525" r="5.5"/><circle cx="570" r="5.5"/></g>
<rect class="or" x="345" width="3" height="60"/><rect class="ob" x="348" width="612" height="60"/><rect class="og" x="720" width="225" height="60"/>
<text class="t" x="0" y="-20.7">♩=128</text><text class="t" x="240" y="-20.7">♩=128</text><text class="t" x="480" y="-20.7">♩=129</text><text class="t" x="600" y="-20.7">♩=128</text>
<text class="mn" x="0" y="-8">57</text><text class="mn" x="240" y="-8">58</text><text class="mn" x="480" y="-8">59</text><text class="mn" x="720" y="-8">60</text>
<text class="n1" x="239" y="76">200</text><text class="n2" x="239" y="89.3">71579</text><text class="n3" x="239" y="102">50.00%</text>
<text class="n1" x="479" y="76">150</text><text class="n2" x="479" y="89.3">73079</text><text class="n3" x="479" y="102">43.22%</text>
<text class="n1" x="719" y="76">225</text><text class="n2" x="719" y="89.3">75779</text><text class="n3" x="719" y="102">30.72%</text>
<text class="n1" x="959" y="76">300</text><text class="n2" x="959" y="89.3">79379</text><text class="n3" x="959" y="102">43.22%</text>
</g>

<g id="row16" transform="translate(31.3,2320.4)">
<use href="#mg"/><use href="#mg" x="240"/><use href="#mg" x="480"/><use href="#mg" x="720"/>
<g class="g"><circle cx="720" r="5.5"/><circle cx="840" r="5.5"/></g>
<g class="r" transform="translate(0,15)"><circle cx="30" r="5.5"/><circle cx="90" r="5.5"/><circle cx="150" r="5.5"/><circle cx="210" r="5.5"/><circle cx="270" r="5.5"/><circle cx="330" r="5.5"/><circle cx="390" r="5.5"/><circle cx="450" r="5.5"/><circle cx="510" r="5.5"/><circle cx="570" r="5.5"/><circle cx="630" r="5.5"/><circle cx="690" r="5.5"/></g>
<g class="y" transform="translate(0,30)"><circle cx="45" r="5.5"/><circle cx="105" r="5.5"/><circle cx="165" r="5.5"/><circle cx="225" r="5.5"/><circle cx="285" r="5.5"/><circle cx="345" r="5.5"/><circle cx="405" r="5.5"/><circle cx="465" r="5.5"/><circle cx="525" r="5.5"/><circle cx="585" r="5.5"/><circle cx="645" r="5.5"/><circle cx="705" r="5.5"/><circle cx="810" r="5.5"/><circle cx="930" r="5.5"/></g>
<g class="b" transform="translate(0,45)"><circle cx="0" r="5.5"/><circle cx="60" r="5.5"/><circle cx="120" r="5.5"/><circle cx="180" r="5.5"/><circle cx="240" r="5.5"/><circle cx="300" r="5.5"/><circle cx="360" r="5.5"/><circle cx="420" r="5.5"/><circle cx="480" r="5.5"/><circle cx="540" r="5.5"/><circle cx="600" r="5.5"/><circle cx="660" r="5.5"/><circle cx="765" r="5.5"/><circle cx="825" r="5.5"/><circle cx="885" r="5.5"/><circle cx="945" r="5.5"/></g>
<rect class="ob" x="0" width="960" height="60"/>
<text class="t" x="0" y="-20.7">♩=126</text><text class="t" x="120" y="-20.7">♩=128</text><text class="t" x="240" y="-20.7">♩=128</text><text class="t" x="480" y="-20.7">♩=128</text><text class="t" x="720" y="-20.7">♩=128</text>
<text class="mn" x="0" y="-8">61</text><text class="mn" x="240" y="-8">62</text><text class="mn" x="480" y="-8">63</text><text class="mn" x="720" y="-8">64</text>
<text class="n1" x="239" y="76">300</text><text class="n2" x="239" y="89.3">82979</text><text class="n3" x="239" y="102">30.72%</text>
<text class="n1" x="479" y="76">300</text><text class="n2" x="479" y="89.3">86579</text><text class="n3" x="479" y="102">18.22%</text>
<text class="n1" x="719" y="76">300</text><text class="n2" x="719" y="89.3">90179</text><text class="n3" x="719" y="102">5.72%</text>
<text class="n1" x="959" y="76">200</text><text class="n2" x="959" y="89.3">92579</text><text class="n3" x="959" y="102">0.00%</text>
</g>

<g id="row17" transform="translate(31.3,2461.38)">
<use href="#mg"/><use href="#mg" x="240"/><use href="#mg" x="480"/><use href="#mg" x="720"/>
<g class="g"><circle cx="0" r="5.5"/><circle cx="120" r="5.5"/><circle cx="330" r="5.5"/><circle cx="450" r="5.5"/><circle cx="660" r="5.5"/><circle cx="825" r="5.5"/><circle cx="930" r="5.5"/></g>
<g class="r" transform="translate(0,15)"><circle cx="240" r="5.5"/><circle cx="345" r="5.5"/><circle cx="360" r="5.5"/><circle cx="465" r="5.5"/><circle cx="510" r="5.5"/><circle cx="600" r="5.5"/><circle cx="720" r="5.5"/><circle cx="840" r="5.5"/></g>
<g class="y" transform="translate(0,30)"><circle cx="165" r="5.5"/></g>
<g class="b" transform="translate(0,45)"><circle cx="45" r="5.5"/><circle cx="90" r="5.5"/><circle cx="150" r="5.5"/><circle cx="480" r="5.5"/><circle cx="570" r="5.5"/><circle cx="765" r="5.5"/><circle cx="885" r="5.5"/></g>
<g class="o" transform="translate(0,60)"><circle cx="210" r="5.5"/><circle cx="285" r="5.5"/><circle cx="405" r="5.5"/><circle cx="525" r="5.5"/><circle cx="585" r="5.5"/><circle cx="630" r="5.5"/><circle cx="690" r="5.5"/></g>
<rect class="ob" x="0" width="829.5" height="60"/><rect class="or" x="829.5" width="10.5" height="60"/>
<text class="t" x="0" y="-20.7">♩=128</text><text class="t" x="240" y="-20.7">♩=128</text><text class="t" x="360" y="-20.7">♩=128</text><text class="t" x="480" y="-20.7">♩=128</text><text class="t" x="720" y="-20.7">♩=128</text>
<text class="mn" x="0" y="-8">65</text><text class="mn" x="240" y="-8">66</text><text class="mn" x="480" y="-8">67</text><text class="mn" x="720" y="-8">68</text>
<text class="n1" x="239" y="76">175</text><text class="n2" x="239" y="89.3">94679</text><text class="n3" x="239" y="102">0.00%</text>
<text class="n1" x="479" y="76">200</text><text class="n2" x="479" y="89.3">97079</text><text class="n3" x="479" y="102">0.00%</text>
<text class="n1" x="719" y="76">225</text><text class="n2" x="719" y="89.3">99779</text><text class="n3" x="719" y="102">0.00%</text>
<text class="n1" x="959" y="76">150</text><text class="n2" x="959" y="89.3">101279</text><text class="n3" x="959" y="102">0.00%</text>
</g>

<g id="row18" transform="translate(31.3,2602.36)">
<use href="#mg"/><use href="#mg" x="240"/><use href="#mg" x="480"/><use href="#mg" x="720"/>
<g class="g"><circle cx="90" r="5.5"/><circle cx="720" r="5.5"/><circle cx="840" r="5.5"/><circle cx="930" r="5.5"/><use href="#s" x="540"/></g>
<g class="r" transform="translate(0,15)"><circle cx="0" r="5.5"/><circle cx="30" r="5.5"/><circle cx="120" r="5.5"/><circle cx="180" r="5.5"/><circle cx="345" r="5.5"/><circle cx="825" r="5.5"/><use href="#s" x="600"/></g>
<g class="y" transform="translate(0,30)"><circle cx="240" r="5.5"/><circle cx="360" r="5.5"/><circle cx="450" r="5.5"/><use href="#s" x="480"/><use href="#s" x="570"/><use href="#s" x="660"/></g>
<g class="b" transform="translate(0,45)"><circle cx="15" r="5.5"/><circle cx="45" r="5.5"/><circle cx="150" r="5.5"/><circle cx="765" r="5.5"/><circle cx="885" r="5.5"/><use href="#s" x="630"/></g>
<g class="o" transform="translate(0,60)"><circle cx="210" r="5.5"/><circle cx="285" r="5.5"/><circle cx="405" r="5.5"/><use href="#s" x="510"/><use href="#s" x="690"/></g>
<rect class="og" x="480" width="210" height="60"/>
<text class="t" x="0" y="-20.7">♩=128</text><text class="t" x="240" y="-20.7">♩=128</text><text class="t" x="720" y="-20.7">♩=128</text>
<text class="mn" x="0" y="-8">69</text><text class="mn" x="240" y="-8">70</text><text class="mn" x="480" y="-8">71</text><text class="mn" x="720" y="-8">72</text>
<text class="n1" x="239" y="76">225</text><text class="n2" x="239" y="89.3">102629</text><text class="n3" x="239" y="102">0.00%</text>
<text class="n1" x="479" y="76">150</text><text class="n2" x="479" y="89.3">103529</text><text class="n3" x="479" y="102">0.00%</text>
<text class="n1" x="719" y="76">200</text><text class="n2" x="719" y="89.3">104729</text><text class="n3" x="719" y="102">25.00%</text>
<text class="n1" x="959" y="76">150</text><text class="n2" x="959" y="89.3">105629</text><text class="n3" x="959" y="102">25.00%</text>
</g>

<g id="row19" transform="translate(31.3,2743.34)">
<use href="#mg"/><use href="#mg" x="240"/><use href="#mg" x="480"/><use href="#mg" x="720"/>
<g class="g"><circle cx="90" r="5.5"/><circle cx="120" r="5.5"/><circle cx="345" r="5.5"/><circle cx="825" r="5.5"/><circle cx="930" r="5.5"/></g>
<g class="r" transform="translate(0,15)"><circle cx="0" r="5.5"/><circle cx="240" r="5.5"/><circle cx="360" r="5.5"/><circle cx="450" r="5.5"/><circle cx="510" r="5.5"/><circle cx="570" r="5.5"/><circle cx="600" r="5.5"/><circle cx="720" r="5.5"/><circle cx="840" r="5.5"/></g>
<g class="y" transform="translate(0,30)"><circle cx="180" r="5.5"/><circle cx="660" r="5.5"/></g>
<g class="b" transform="translate(0,45)"><circle cx="45" r="5.5"/><circle cx="150" r="5.5"/><circle cx="765" r="5.5"/><circle cx="885" r="5.5"/></g>
<g class="o" transform="translate(0,60)"><circle cx="210" r="5.5"/><circle cx="285" r="5.5"/><circle cx="405" r="5.5"/><circle cx="495" r="5.5"/><circle cx="540" r="5.5"/><circle cx="630" r="5.5"/><circle cx="690" r="5.5"/></g>
<text class="t" x="0" y="-20.7">♩=127</text><text class="t" x="240" y="-20.7">♩=128</text><text class="t" x="480" y="-20.7">♩=127</text><text class="t" x="600" y="-20.7">♩=126</text><text class="t" x="720" y="-20.7">♩=130</text><text class="t" x="840" y="-20.7">♩=129</text>
<text class="mn" x="0" y="-8">73</text><text class="mn" x="240" y="-8">74</text><text class="mn" x="480" y="-8">75</text><text class="mn" x="720" y="-8">76</text>
<text class="n1" x="239" y="76">175</text><text class="n2" x="239" y="89.3">106679</text><text class="n3" x="239" y="102">25.00%</text>
<text class="n1" x="479" y="76">150</text><text class="n2" x="479" y="89.3">107579</text><text class="n3" x="479" y="102">25.00%</text>
<text class="n1" x="719" y="76">200</text><text class="n2" x="719" y="89.3">108779</text><text class="n3" x="719" y="102">25.00%</text>
<text class="n1" x="959" y="76">150</text><text class="n2" x="959" y="89.3">109679</text><text class="n3" x="959" y="102">25.00%</text>
</g>

<g id="row20" transform="translate(31.3,2884.32)">
<rect class="yb" x="720" y="-10" width="210" height="81"/>
<use href="#mg"/><use href="#mg" x="240"/><use href="#mg" x="480"/><use href="#mg" x="720"/>
<g class="g"><circle cx="90" r="5.5"/><circle cx="540" r="5.5"/><use href="#s" x="720"/><use href="#s" x="930"/></g>
<g class="r" transform="translate(0,15)"><circle cx="0" r="5.5"/><circle cx="30" r="5.5"/><circle cx="120" r="5.5"/><circle cx="180" r="5.5"/><circle cx="345" r="5.5"/><circle cx="600" r="5.5"/><use href="#s" x="810"/></g>
<g class="y" transform="translate(0,30)"><circle cx="240" r="5.5"/><circle cx="360" r="5.5"/><circle cx="450" r="5.5"/><circle cx="510" r="5.5"/><circle cx="570" r="5.5"/><circle cx="660" r="5.5"/><use href="#s" x="840"/></g>
<g class="b" transform="translate(0,45)"><circle cx="15" r="5.5"/><circle cx="60" r="5.5"/><circle cx="150" r="5.5"/><circle cx="630" r="5.5"/><use href="#s" x="750"/><use href="#s" x="765"/></g>
<g class="o" transform="translate(0,60)"><circle cx="210" r="5.5"/><circle cx="285" r="5.5"/><circle cx="405" r="5.5"/><circle cx="690" r="5.5"/><use href="#s" x="885"/></g>
<rect class="og" x="720" width="210" height="60"/>
<text class="t" x="0" y="-20.7">♩=128</text><text class="t" x="240" y="-20.7">♩=128</text><text class="t" x="480" y="-20.7">♩=130</text><text class="t" x="600" y="-20.7">♩=127</text><text class="t" x="660" y="-20.7">♩=125</text><text class="t" x="720" y="-20.7">♩=129</text>
<text class="mn" x="0" y="-8">77</text><text class="mn" x="240" y="-8">78</text><text class="mn" x="480" y="-8">79</text><text class="mn" x="720" y="-8">80</text>
<text class="n1" x="239" y="76">225</text><text class="n2" x="239" y="89.3">111029</text><text class="n3" x="239" y="102">25.00%</text>
<text class="n1" x="479" y="76">150</text><text class="n2" x="479" y="89.3">111929</text><text class="n3" x="479" y="102">25.00%</text>
<text class="n1" x="719" y="76">175</text><text class="n2" x="719" y="89.3">112979</text><text class="n3" x="719" y="102">25.00%</text>
<text class="n1" x="959" y="76">175</text><text class="n2" x="959" y="89.3">114029</text><text class="n3" x="959" y="102">50.00%</text>
</g>

<g id="row21" transform="translate(31.3,3025.3)">
<use href="#mg"/><use href="#mg" x="240"/><use href="#mg" x="480"/><use href="#mg" x="720"/>
<g class="g"><circle cx="120" r="5.5"/><circle cx="240" r="5.5"/><circle cx="450" r="5.5"/><circle cx="600" r="5.5"/><circle cx="720" r="5.5"/></g>
<g class="r" transform="translate(0,15)"><circle cx="0" r="5.5"/><circle cx="75" r="5.5"/><circle cx="180" r="5.5"/><circle cx="345" r="5.5"/><circle cx="480" r="5.5"/><circle cx="660" r="5.5"/><circle cx="780" r="5.5"/></g>
<g class="y" transform="translate(0,30)"><circle cx="150" r="5.5"/><circle cx="360" r="5.5"/><circle cx="540" r="5.5"/><circle cx="630" r="5.5"/><circle cx="900" r="5.5"/></g>
<g class="b" transform="translate(0,45)"><circle cx="210" r="5.5"/><circle cx="285" r="5.5"/><circle cx="690" r="5.5"/><circle cx="750" r="5.5"/><circle cx="840" r="5.5"/><circle cx="930" r="5.5"/></g>
<g class="o" transform="translate(0,60)"><circle cx="30" r="5.5"/><circle cx="90" r="5.5"/><circle cx="405" r="5.5"/><circle cx="510" r="5.5"/><circle cx="570" r="5.5"/><circle cx="810" r="5.5"/><circle cx="870" r="5.5"/></g>
<rect class="or" x="345" width="3" height="60"/><rect class="ob" x="348" width="612" height="60"/>
<text class="t" x="0" y="-20.7">♩=128</text><text class="t" x="240" y="-20.7">♩=129</text><text class="t" x="360" y="-20.7">♩=129</text><text class="t" x="480" y="-20.7">♩=128</text><text class="t" x="720" y="-20.7">♩=127</text><text class="t" x="840" y="-20.7">♩=128</text>
<text class="mn" x="0" y="-8">81</text><text class="mn" x="240" y="-8">82</text><text class="mn" x="480" y="-8">83</text><text class="mn" x="720" y="-8">84</text>
<text class="n1" x="239" y="76">200</text><text class="n2" x="239" y="89.3">115229</text><text class="n3" x="239" y="102">50.00%</text>
<text class="n1" x="479" y="76">150</text><text class="n2" x="479" y="89.3">116729</text><text class="n3" x="479" y="102">43.22%</text>
<text class="n1" x="719" y="76">200</text><text class="n2" x="719" y="89.3">119129</text><text class="n3" x="719" y="102">30.72%</text>
<text class="n1" x="959" y="76">200</text><text class="n2" x="959" y="89.3">121529</text><text class="n3" x="959" y="102">18.22%</text>
</g>

<g id="row22" transform="translate(31.3,3166.28)">
<use href="#mg"/><use href="#mg" x="240"/><use href="#mg" x="480"/><use href="#mg" x="720"/>
<g class="g"><circle cx="120" r="5.5"/><circle cx="240" r="5.5"/><circle cx="450" r="5.5"/><circle cx="645" r="5.5"/><use href="#s" x="720"/></g>
<g class="r" transform="translate(0,15)"><circle cx="0" r="5.5"/><circle cx="75" r="5.5"/><circle cx="180" r="5.5"/><circle cx="330" r="5.5"/><circle cx="510" r="5.5"/><circle cx="555" r="5.5"/><circle cx="585" r="5.5"/><circle cx="690" r="5.5"/><use href="#s" x="780"/></g>
<g class="y" transform="translate(0,30)"><circle cx="150" r="5.5"/><circle cx="360" r="5.5"/><circle cx="525" r="5.5"/><circle cx="630" r="5.5"/><use href="#s" x="750"/><use href="#s" x="840"/></g>
<g class="b" transform="translate(0,45)"><circle cx="210" r="5.5"/><circle cx="285" r="5.5"/><circle cx="480" r="5.5"/><circle cx="600" r="5.5"/><circle cx="660" r="5.5"/><use href="#s" x="810"/><use href="#s" x="825"/></g>
<g class="o" transform="translate(0,60)"><circle cx="30" r="5.5"/><circle cx="90" r="5.5"/><circle cx="405" r="5.5"/><circle cx="570" r="5.5"/><use href="#s" x="870"/></g>
<rect class="ob" x="0" width="829.5" height="60"/><rect class="og" x="720" width="150" height="60"/><rect class="or" x="829.5" width="10.5" height="60"/>
<text class="t" x="0" y="-20.7">♩=128</text><text class="t" x="120" y="-20.7">♩=130</text><text class="t" x="240" y="-20.7">♩=127</text><text class="t" x="360" y="-20.7">♩=128</text><text class="t" x="420" y="-20.7">♩=129</text><text class="t" x="480" y="-20.7">♩=130</text><text class="t" x="600" y="-20.7">♩=128</text><text class="t" x="720" y="-20.7">♩=126</text>
<text class="mn" x="0" y="-8">85</text><text class="mn" x="240" y="-8">86</text><text class="mn" x="480" y="-8">87</text><text class="mn" x="720" y="-8">88</text>
<text class="n1" x="239" y="76">200</text><text class="n2" x="239" y="89.3">123929</text><text class="n3" x="239" y="102">5.72%</text>
<text class="n1" x="479" y="76">150</text><text class="n2" x="479" y="89.3">125729</text><text class="n3" x="479" y="102">0.00%</text>
<text class="n1" x="719" y="76">275</text><text class="n2" x="719" y="89.3">129029</text><text class="n3" x="719" y="102">0.00%</text>
<text class="n1" x="959" y="76">175</text><text class="n2" x="959" y="89.3">130979</text><text class="n3" x="959" y="102">25.00%</text>
</g>

<g id="row23" transform="translate(31.3,3307.26)">
<use href="#mg"/><use href="#mg" x="240"/><use href="#mg" x="480"/><use href="#mg" x="720"/>
<g class="g"><circle cx="240" r="5.5"/><circle cx="435" r="5.5"/><circle cx="600" r="5.5"/><circle cx="720" r="5.5"/><circle cx="930" r="5.5"/></g>
<g class="r" transform="translate(0,15)"><circle cx="480" r="5.5"/><circle cx="660" r="5.5"/><circle cx="825" r="5.5"/></g>
<g class="y" transform="translate(0,30)"><circle cx="345" r="5.5"/><circle cx="630" r="5.5"/><circle cx="840" r="5.5"/></g>
<g class="b" transform="translate(0,45)"><circle cx="270" r="5.5"/><circle cx="450" r="5.5"/><circle cx="510" r="5.5"/><circle cx="570" r="5.5"/><circle cx="690" r="5.5"/><circle cx="765" r="5.5"/></g>
<g class="o" transform="translate(0,60)"><circle cx="330" r="5.5"/><circle cx="390" r="5.5"/><circle cx="885" r="5.5"/></g>
<text class="t" x="0" y="-20.7">♩=129</text><text class="t" x="240" y="-20.7">♩=128</text><text class="t" x="360" y="-20.7">♩=128</text><text class="t" x="480" y="-20.7">♩=128</text><text class="t" x="600" y="-20.7">♩=127</text><text class="t" x="720" y="-20.7">♩=128</text>
<text class="mn" x="0" y="-8">89</text><text class="mn" x="240" y="-8">90</text><text class="mn" x="480" y="-8">91</text><text class="mn" x="720" y="-8">92</text>
<text class="n1" x="239" y="76">0</text><text class="n2" x="239" y="89.3">130979</text><text class="n3" x="239" y="102">25.00%</text>
<text class="n1" x="479" y="76">175</text><text class="n2" x="479" y="89.3">132029</text><text class="n3" x="479" y="102">25.00%</text>
<text class="n1" x="719" y="76">175</text><text class="n2" x="719" y="89.3">133079</text><text class="n3" x="719" y="102">25.00%</text>
<text class="n1" x="959" y="76">150</text><text class="n2" x="959" y="89.3">133979</text><text class="n3" x="959" y="102">25.00%</text>
</g>

<g id="row24" transform="translate(31.3,3448.24)">
<use href="#mg"/><use href="#mg" x="240"/><use href="#mg" x="480"/><use href="#mg" x="720"/>
<g class="g"><circle cx="120" r="5.5"/><circle cx="240" r="5.5"/><circle cx="450" r="5.5"/><circle cx="720" r="5.5"/><circle cx="930" r="5.5"/></g>
<g class="r" transform="translate(0,15)"><circle cx="0" r="5.5"/><circle cx="75" r="5.5"/><circle cx="90" r="5.5"/><circle cx="180" r="5.5"/><circle cx="330" r="5.5"/><circle cx="810" r="5.5"/><use href="#s" x="480"/><use href="#s" x="660"/></g>
<g class="y" transform="translate(0,30)"><circle cx="150" r="5.5"/><circle cx="360" r="5.5"/><circle cx="840" r="5.5"/><use href="#s" x="540"/></g>
<g class="b" transform="translate(0,45)"><circle cx="210" r="5.5"/><circle cx="285" r="5.5"/><circle cx="750" r="5.5"/><use href="#s" x="510"/><use href="#s" x="600"/><use href="#s" x="690"/></g>
<g class="o" transform="translate(0,60)"><circle cx="30" r="5.5"/><circle cx="105" r="5.5"/><circle cx="405" r="5.5"/><circle cx="885" r="5.5"/><use href="#s" x="570"/><use href="#s" x="630"/></g>
<rect class="og" x="480" width="210" height="60"/>
<text class="t" x="0" y="-20.7">♩=128</text><text class="t" x="120" y="-20.7">♩=128</text><text class="t" x="240" y="-20.7">♩=128</text><text class="t" x="480" y="-20.7">♩=130</text><text class="t" x="600" y="-20.7">♩=127</text><text class="t" x="720" y="-20.7">♩=128</text>
<text class="mn" x="0" y="-8">93</text><text class="mn" x="240" y="-8">94</text><text class="mn" x="480" y="-8">95</text><text class="mn" x="720" y="-8">96</text>
<text class="n1" x="239" y="76">225</text><text class="n2" x="239" y="89.3">135329</text><text class="n3" x="239" y="102">25.00%</text>
<text class="n1" x="479" y="76">150</text><text class="n2" x="479" y="89.3">136229</text><text class="n3" x="479" y="102">25.00%</text>
<text class="n1" x="719" y="76">200</text><text class="n2" x="719" y="89.3">137429</text><text class="n3" x="719" y="102">50.00%</text>
<text class="n1" x="959" y="76">150</text><text class="n2" x="959" y="89.3">138329</text><text class="n3" x="959" y="102">50.00%</text>
</g>

<g id="row25" transform="translate(31.3,3589.22)">
<use href="#mg"/><use href="#mg" x="240"/><use href="#mg" x="480"/><use href="#mg" x="720"/>
<g class="g"><circle cx="120" r="5.5"/><circle cx="240" r="5.5"/><circle cx="450" r="5.5"/><circle cx="540" r="5.5"/><circle cx="930" r="5.5"/></g>
<g class="r" transform="translate(0,15)"><circle cx="0" r="5.5"/><circle cx="75" r="5.5"/><circle cx="180" r="5.5"/><circle cx="330" r="5.5"/><circle cx="480" r="5.5"/><circle cx="600" r="5.5"/></g>
<g class="y" transform="translate(0,30)"><circle cx="150" r="5.5"/><circle cx="165" r="5.5"/><circle cx="360" r="5.5"/><circle cx="570" r="5.5"/><circle cx="585" r="5.5"/><circle cx="660" r="5.5"/><circle cx="840" r="5.5"/></g>
<g class="b" transform="translate(0,45)"><circle cx="210" r="5.5"/><circle cx="225" r="5.5"/><circle cx="270" r="5.5"/><circle cx="285" r="5.5"/><circle cx="630" r="5.5"/><circle cx="645" r="5.5"/><circle cx="720" r="5.5"/><circle cx="765" r="5.5"/><circle cx="780" r="5.5"/><circle cx="810" r="5.5"/></g>
<g class="o" transform="translate(0,60)"><circle cx="30" r="5.5"/><circle cx="45" r="5.5"/><circle cx="90" r="5.5"/><circle cx="105" r="5.5"/><circle cx="390" r="5.5"/><circle cx="405" r="5.5"/><circle cx="510" r="5.5"/><circle cx="525" r="5.5"/><circle cx="690" r="5.5"/><circle cx="705" r="5.5"/><circle cx="750" r="5.5"/><circle cx="870" r="5.5"/><circle cx="885" r="5.5"/></g>
<rect class="or" x="45" width="6.7" height="60"/><rect class="ob" x="51.7" width="908.3" height="60"/>
<text class="t" x="0" y="-20.7">♩=129</text><text class="t" x="240" y="-20.7">♩=128</text><text class="t" x="480" y="-20.7">♩=129</text><text class="t" x="720" y="-20.7">♩=127</text>
<text class="mn" x="0" y="-8">97</text><text class="mn" x="240" y="-8">98</text><text class="mn" x="480" y="-8">99</text><text class="mn" x="720" y="-8">100</text>
<text class="n1" x="239" y="76">300</text><text class="n2" x="239" y="89.3">141629</text><text class="n3" x="239" y="102">40.21%</text>
<text class="n1" x="479" y="76">200</text><text class="n2" x="479" y="89.3">144029</text><text class="n3" x="479" y="102">27.71%</text>
<text class="n1" x="719" y="76">300</text><text class="n2" x="719" y="89.3">147629</text><text class="n3" x="719" y="102">15.21%</text>
<text class="n1" x="959" y="76">225</text><text class="n2" x="959" y="89.3">150329</text><text class="n3" x="959" y="102">2.71%</text>
</g>

<g id="row26" transform="translate(31.3,3730.2)">
<rect class="yb" x="240" y="-10" width="210" height="81"/>
<use href="#mg"/><use href="#mg" x="240"/><use href="#mg" x="480"/><use href="#mg" x="720"/>
<g class="g"><circle cx="120" r="5.5"/><circle cx="720" r="5.5"/><circle cx="900" r="5.5"/><use href="#s" x="240"/><use href="#s" x="450"/></g>
<g class="r" transform="translate(0,15)"><circle cx="0" r="5.5"/><circle cx="60" r="5.5"/><circle cx="180" r="5.5"/><circle cx="480" r="5.5"/><circle cx="540" r="5.5"/><circle cx="630" r="5.5"/><circle cx="645" r="5.5"/><circle cx="675" r="5.5"/><circle cx="780" r="5.5"/><circle cx="930" r="5.5"/><use href="#s" x="330"/></g>
<g class="y" transform="translate(0,30)"><circle cx="150" r="5.5"/><circle cx="165" r="5.5"/><circle cx="690" r="5.5"/><circle cx="840" r="5.5"/><circle cx="945" r="5.5"/><use href="#s" x="360"/></g>
<g class="b" transform="translate(0,45)"><circle cx="210" r="5.5"/><circle cx="225" r="5.5"/><circle cx="660" r="5.5"/><circle cx="750" r="5.5"/><use href="#s" x="285"/></g>
<g class="o" transform="translate(0,60)"><circle cx="30" r="5.5"/><circle cx="45" r="5.5"/><circle cx="90" r="5.5"/><circle cx="510" r="5.5"/><circle cx="525" r="5.5"/><circle cx="570" r="5.5"/><circle cx="615" r="5.5"/><circle cx="810" r="5.5"/><circle cx="870" r="5.5"/><use href="#s" x="405"/></g>
<rect class="ob" x="0" width="51.7" height="60"/><rect class="or" x="51.7" width="8.3" height="60"/><rect class="og" x="240" width="210" height="60"/>
<text class="t" x="0" y="-20.7">♩=130</text><text class="t" x="120" y="-20.7">♩=125</text><text class="t" x="240" y="-20.7">♩=129</text><text class="t" x="480" y="-20.7">♩=129</text><text class="t" x="720" y="-20.7">♩=127</text><text class="t" x="840" y="-20.7">♩=126</text>
<text class="mn" x="0" y="-8">101</text><text class="mn" x="240" y="-8">102</text><text class="mn" x="480" y="-8">103</text><text class="mn" x="720" y="-8">104</text>
<text class="n1" x="239" y="76">275</text><text class="n2" x="239" y="89.3">152579</text><text class="n3" x="239" y="102">0.00%</text>
<text class="n1" x="479" y="76">150</text><text class="n2" x="479" y="89.3">153479</text><text class="n3" x="479" y="102">25.00%</text>
<text class="n1" x="719" y="76">275</text><text class="n2" x="719" y="89.3">155129</text><text class="n3" x="719" y="102">25.00%</text>
<text class="n1" x="959" y="76">225</text><text class="n2" x="959" y="89.3">156479</text><text class="n3" x="959" y="102">25.00%</text>
</g>

<g id="row27" transform="translate(31.3,3871.18)">
<use href="#mg"/><use href="#mg" x="240"/><use href="#mg" x="480"/><use href="#mg" x="720"/>
<g class="g"><circle cx="240" r="5.5"/><circle cx="360" r="5.5"/><circle cx="645" r="5.5"/><circle cx="660" r="5.5"/><circle cx="720" r="5.5"/><circle cx="840" r="5.5"/></g>
<g class="r" transform="translate(0,15)"><circle cx="210" r="5.5"/><circle cx="300" r="5.5"/><circle cx="420" r="5.5"/><circle cx="630" r="5.5"/><circle cx="690" r="5.5"/><circle cx="780" r="5.5"/><circle cx="900" r="5.5"/></g>
<g class="y" transform="translate(0,30)"><circle cx="120" r="5.5"/><circle cx="390" r="5.5"/><circle cx="465" r="5.5"/><circle cx="510" r="5.5"/><circle cx="600" r="5.5"/><circle cx="870" r="5.5"/><circle cx="945" r="5.5"/></g>
<g class="b" transform="translate(0,45)"><circle cx="0" r="5.5"/><circle cx="30" r="5.5"/><circle cx="45" r="5.5"/><circle cx="90" r="5.5"/><circle cx="150" r="5.5"/><circle cx="195" r="5.5"/><circle cx="270" r="5.5"/><circle cx="450" r="5.5"/><circle cx="570" r="5.5"/><circle cx="750" r="5.5"/></g>
<g class="o" transform="translate(0,60)"><circle cx="15" r="5.5"/><circle cx="75" r="5.5"/><circle cx="330" r="5.5"/><circle cx="480" r="5.5"/><circle cx="525" r="5.5"/><circle cx="810" r="5.5"/><circle cx="930" r="5.5"/></g>
<text class="t" x="0" y="-20.7">♩=129</text><text class="t" x="120" y="-20.7">♩=127</text><text class="t" x="240" y="-20.7">♩=127</text><text class="t" x="480" y="-20.7">♩=127</text><text class="t" x="720" y="-20.7">♩=127</text>
<text class="mn" x="0" y="-8">105</text><text class="mn" x="240" y="-8">106</text><text class="mn" x="480" y="-8">107</text><text class="mn" x="720" y="-8">108</text>
<text class="n1" x="239" y="76">250</text><text class="n2" x="239" y="89.3">157979</text><text class="n3" x="239" y="102">25.00%</text>
<text class="n1" x="479" y="76">225</text><text class="n2" x="479" y="89.3">159329</text><text class="n3" x="479" y="102">25.00%</text>
<text class="n1" x="719" y="76">225</text><text class="n2" x="719" y="89.3">160679</text><text class="n3" x="719" y="102">25.00%</text>
<text class="n1" x="959" y="76">225</text><text class="n2" x="959" y="89.3">162029</text><text class="n3" x="959" y="102">25.00%</text>
</g>

<g id="row28" transform="translate(31.3,4012.16)">
<use href="#mg"/><use href="#mg" x="240"/><use href="#mg" x="480"/><use href="#mg" x="720"/>
<g class="g"><circle cx="120" r="5.5"/><circle cx="240" r="5.5"/><circle cx="360" r="5.5"/><circle cx="420" r="5.5"/><circle cx="465" r="5.5"/><circle cx="615" r="5.5"/><circle cx="645" r="5.5"/><circle cx="720" r="5.5"/><circle cx="840" r="5.5"/></g>
<g class="r" transform="translate(0,15)"><circle cx="135" r="5.5"/><circle cx="180" r="5.5"/><circle cx="300" r="5.5"/><circle cx="510" r="5.5"/><circle cx="630" r="5.5"/><circle cx="690" r="5.5"/><circle cx="780" r="5.5"/><circle cx="900" r="5.5"/></g>
<g class="y" transform="translate(0,30)"><circle cx="30" r="5.5"/><circle cx="150" r="5.5"/><circle cx="195" r="5.5"/><circle cx="390" r="5.5"/><circle cx="660" r="5.5"/><circle cx="870" r="5.5"/></g>
<g class="b" transform="translate(0,45)"><circle cx="45" r="5.5"/><circle cx="165" r="5.5"/><circle cx="210" r="5.5"/><circle cx="270" r="5.5"/><circle cx="450" r="5.5"/><circle cx="525" r="5.5"/><circle cx="600" r="5.5"/><circle cx="750" r="5.5"/><circle cx="930" r="5.5"/></g>
<g class="o" transform="translate(0,60)"><circle cx="0" r="5.5"/><circle cx="225" r="5.5"/><circle cx="330" r="5.5"/><circle cx="480" r="5.5"/><circle cx="495" r="5.5"/><circle cx="570" r="5.5"/><circle cx="810" r="5.5"/></g>
<rect class="ob" x="120" width="840" height="60"/>
<text class="t" x="0" y="-20.7">♩=129</text><text class="t" x="240" y="-20.7">♩=128</text><text class="t" x="480" y="-20.7">♩=128</text><text class="t" x="720" y="-20.7">♩=130</text><text class="t" x="840" y="-20.7">♩=128</text>
<text class="mn" x="0" y="-8">109</text><text class="mn" x="240" y="-8">110</text><text class="mn" x="480" y="-8">111</text><text class="mn" x="720" y="-8">112</text>
<text class="n1" x="239" y="76">275</text><text class="n2" x="239" y="89.3">164879</text><text class="n3" x="239" y="102">18.72%</text>
<text class="n1" x="479" y="76">225</text><text class="n2" x="479" y="89.3">167579</text><text class="n3" x="479" y="102">6.22%</text>
<text class="n1" x="719" y="76">275</text><text class="n2" x="719" y="89.3">170879</text><text class="n3" x="719" y="102">0.00%</text>
<text class="n1" x="959" y="76">200</text><text class="n2" x="959" y="89.3">173279</text><text class="n3" x="959" y="102">0.00%</text>
</g>

<g id="row29" transform="translate(31.3,4153.14)">
<use href="#mg"/><use href="#mg" x="240"/>
<g class="g"><circle cx="90" r="5.5"/><circle cx="150" r="5.5"/><circle cx="195" r="5.5"/><circle cx="240" r="5.5"/></g>
<g class="r" transform="translate(0,15)"><circle cx="30" r="5.5"/><circle cx="105" r="5.5"/><circle cx="210" r="5.5"/></g>
<g class="y" transform="translate(0,30)"><circle cx="180" r="5.5"/><circle cx="225" r="5.5"/></g>
<g class="b" transform="translate(0,45)"><circle cx="15" r="5.5"/><circle cx="45" r="5.5"/></g>
<g class="o" transform="translate(0,60)"><circle cx="0" r="5.5"/><circle cx="120" r="5.5"/></g>
<rect class="ob" x="0" width="120" height="60"/><rect class="or" x="119" width="1.5" height="60"/>
<text class="t" x="0" y="-20.7">♩=131</text><text class="t" x="120" y="-20.7">♩=129</text><text class="t" x="180" y="-20.7">♩=123</text><text class="t" x="240" y="-20.7">♩=128</text>
<text class="mn" x="0" y="-8">113</text><text class="mn" x="240" y="-8">114</text>
<text class="n1" x="239" y="76">300</text><text class="n2" x="239" y="89.3">176129</text><text class="n3" x="239" y="102">0.00%</text>
<text class="n1" x="479" y="76">25</text><text class="n2" x="479" y="89.3">176279</text><text class="n3" x="479" y="102">0.00%</text>
</g>
</g>
</svg>
